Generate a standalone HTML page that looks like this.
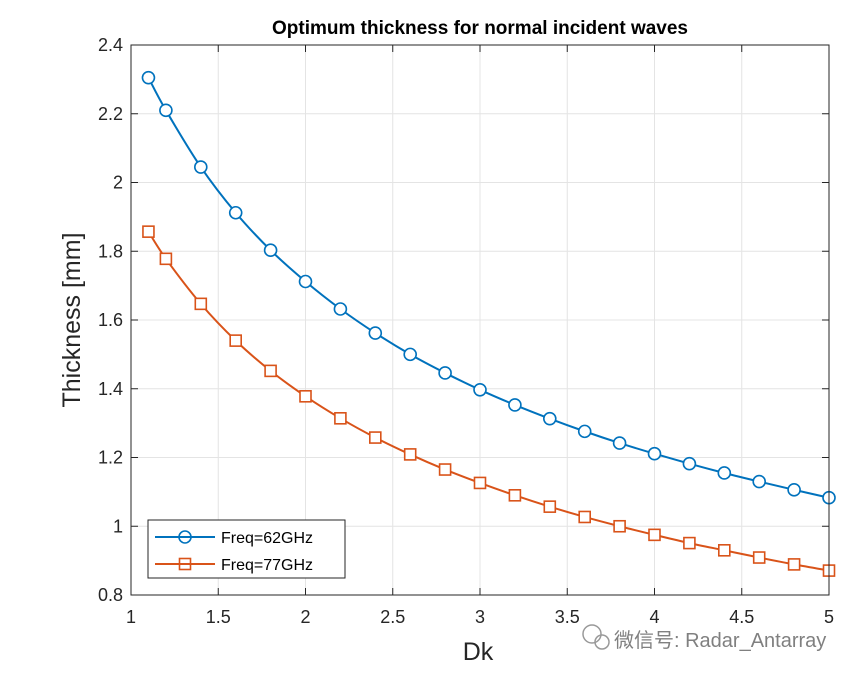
<!DOCTYPE html>
<html><head><meta charset="utf-8">
<style>
body{margin:0;background:#fff;}
svg{display:block;font-family:"Liberation Sans",Arial,sans-serif;}
</style></head>
<body>
<svg id="chart" width="865" height="678" viewBox="0 0 865 678">
<rect x="131" y="45" width="698" height="550" fill="#fff"/>
<g id="grid"></g>
<g id="series"></g>
<rect x="131" y="45" width="698" height="550" fill="none" stroke="#262626" stroke-width="1"/>
<g id="ticks"></g>
<text x="480" y="34" text-anchor="middle" font-size="19" font-weight="bold" fill="#000">Optimum thickness for normal incident waves</text>
<text x="478" y="660" text-anchor="middle" font-size="25" fill="#262626">Dk</text>
<text transform="translate(80,320) rotate(-90)" text-anchor="middle" font-size="25" fill="#262626">Thickness [mm]</text>
<g>
<rect x="148" y="520" width="197" height="58" fill="#fff" stroke="#262626" stroke-width="1"/>
<line x1="155" y1="537" x2="215" y2="537" stroke="#0072BD" stroke-width="2"/>
<circle cx="185" cy="537" r="6" fill="none" stroke="#0072BD" stroke-width="1.6"/>
<text x="221" y="543" font-size="16" fill="#000">Freq=62GHz</text>
<line x1="155" y1="564" x2="215" y2="564" stroke="#D95319" stroke-width="2"/>
<rect x="179.5" y="558.5" width="11" height="11" fill="none" stroke="#D95319" stroke-width="1.6"/>
<text x="221" y="570" font-size="16" fill="#000">Freq=77GHz</text>
</g>
<g>
<circle cx="592" cy="634" r="9" fill="none" stroke="#999" stroke-width="1.5"/>
<circle cx="602" cy="642" r="7" fill="none" stroke="#999" stroke-width="1.5"/>
<text x="614" y="647" font-size="20" fill="#808080" font-family="'Liberation Sans','Noto Sans CJK SC',sans-serif">微信号: Radar_Antarray</text>
</g>
</svg>
<script>
const dk = [1.1,1.2,1.4,1.6,1.8,2.0,2.2,2.4,2.6,2.8,3.0,3.2,3.4,3.6,3.8,4.0,4.2,4.4,4.6,4.8,5.0];
const thick62 = [2.305,2.21,2.045,1.912,1.803,1.712,1.632,1.562,1.500,1.446,1.397,1.353,1.313,1.276,1.242,1.211,1.182,1.155,1.130,1.106,1.083];
const thick77 = [1.857,1.778,1.647,1.540,1.452,1.378,1.314,1.258,1.209,1.165,1.126,1.090,1.057,1.027,1.000,0.975,0.951,0.930,0.909,0.889,0.871];
const xTicks = [1,1.5,2,2.5,3,3.5,4,4.5,5];
const xTickLabels = ["1","1.5","2","2.5","3","3.5","4","4.5","5"];
const yTicks = [0.8,1,1.2,1.4,1.6,1.8,2,2.2,2.4];
const yTickLabels = ["0.8","1","1.2","1.4","1.6","1.8","2","2.2","2.4"];

const NS="http://www.w3.org/2000/svg";
const L=131,R=829,T=45,B=595;
function sx(v){return L+(v-1)/(5-1)*(R-L);}
function sy(v){return B-(v-0.8)/(2.4-0.8)*(B-T);}
function mk(tag,attrs,parent){const e=document.createElementNS(NS,tag);for(const k in attrs)e.setAttribute(k,attrs[k]);parent.appendChild(e);return e;}
const grid=document.getElementById('grid'),ticks=document.getElementById('ticks'),series=document.getElementById('series');
xTicks.forEach((v,i)=>{
  const x=sx(v);
  const g=mk('line',{x1:x,y1:T,x2:x,y2:B,stroke:'#e4e4e4','stroke-width':1},grid);
  
  
  const t=mk('line',{x1:x,y1:B,x2:x,y2:B-7,stroke:'#262626'},ticks);
  
  
  const t2=mk('line',{x1:x,y1:T,x2:x,y2:T+7,stroke:'#262626'},ticks);
  
  
  const tx=mk('text',{x:x,y:B+28,'text-anchor':'middle','font-size':18,fill:'#262626'},ticks);
  tx.textContent=xTickLabels[i];
  
  
});
yTicks.forEach((v,i)=>{
  const y=sy(v);
  const g=mk('line',{x1:L,y1:y,x2:R,y2:y,stroke:'#e4e4e4','stroke-width':1},grid);
  
  
  const t=mk('line',{x1:L,y1:y,x2:L+7,y2:y,stroke:'#262626'},ticks);
  
  
  const t2=mk('line',{x1:R,y1:y,x2:R-7,y2:y,stroke:'#262626'},ticks);
  
  
  const tx=mk('text',{x:L-8,y:y+6,'text-anchor':'end','font-size':18,fill:'#262626'},ticks);
  tx.textContent=yTickLabels[i];
  
  
});
function drawSeries(vals,color,shape,name){
  const pts=dk.map((d,i)=>[sx(d),sy(vals[i])]);
  let dstr='M'+pts[0][0]+','+pts[0][1];
  for(let i=0;i<pts.length-1;i++){
    const p0=pts[Math.max(0,i-1)],p1=pts[i],p2=pts[i+1],p3=pts[Math.min(pts.length-1,i+2)];
    const c1=[p1[0]+(p2[0]-p0[0])/6,p1[1]+(p2[1]-p0[1])/6],c2=[p2[0]-(p3[0]-p1[0])/6,p2[1]-(p3[1]-p1[1])/6];
    dstr+=' C'+c1+' '+c2+' '+p2;
  }
  const p=mk('path',{d:dstr,fill:'none',stroke:color,'stroke-width':2},series);
  
  
  pts.forEach(pt=>{
    let m;
    if(shape==='circle') m=mk('circle',{cx:pt[0],cy:pt[1],r:6,fill:'#fff',stroke:color,'stroke-width':1.6},series);
    else m=mk('rect',{x:pt[0]-5.5,y:pt[1]-5.5,width:11,height:11,fill:'#fff',stroke:color,'stroke-width':1.6},series);
    
    
  });
}
drawSeries(thick62,'#0072BD','circle','series-62ghz');
drawSeries(thick77,'#D95319','square','series-77ghz');
</script>
</body></html>
